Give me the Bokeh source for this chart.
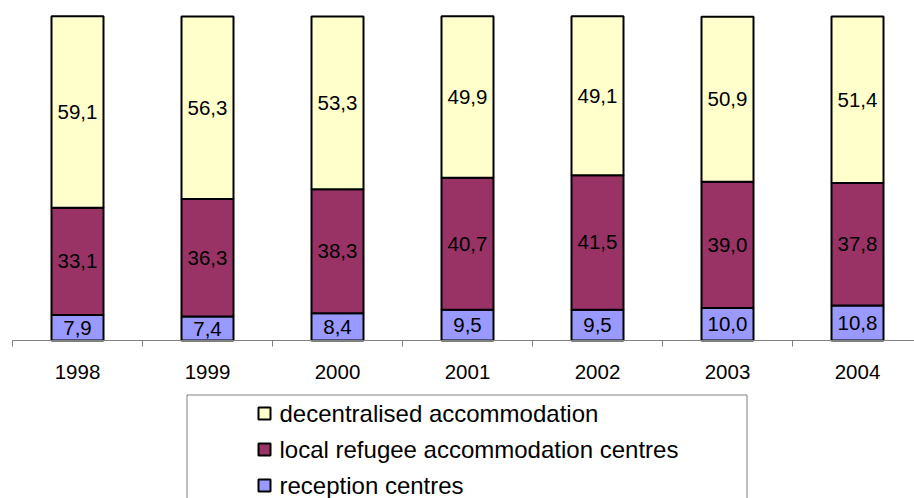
from bokeh.plotting import figure
from bokeh.models import Range1d, ColumnDataSource
from bokeh.core.properties import value
from bokeh.embed import file_html
from bokeh.resources import INLINE

# ---- data ----
years = ["1998", "1999", "2000", "2001", "2002", "2003", "2004"]
reception = [7.9, 7.4, 8.4, 9.5, 9.5, 10.0, 10.8]
local_centres = [33.1, 36.3, 38.3, 40.7, 41.5, 39.0, 37.8]
decentralised = [59.1, 56.3, 53.3, 49.9, 49.1, 50.9, 51.4]
series_names = ["decentralised accommodation", "local refugee accommodation centres", "reception centres"]
colors = {"reception": "#9999FF", "local": "#993366", "decentral": "#FFFFCC"}

FONT = value("Liberation Sans")

# page-pixel -> data helpers (layout only)
def dx(px):
    return (px - 12) / 130.0

def dy(py):
    return (340.0 - py) / 3.24

W, H = 914, 498
p = figure(width=W, height=H, output_backend="svg", toolbar_location=None,
           x_range=Range1d(dx(0), dx(W)), y_range=Range1d(dy(H), dy(0)),
           x_axis_location=None, y_axis_location=None, min_border=0,
           outline_line_color=None, background_fill_color="white")
p.grid.visible = False

n = len(years)
xc = [i + 0.5 for i in range(n)]
src = ColumnDataSource(dict(x=xc, reception=reception, local=local_centres, decentral=decentralised))
p.vbar_stack(["reception", "local", "decentral"], x="x", width=0.4, source=src,
             fill_color=[colors["reception"], colors["local"], colors["decentral"]],
             line_color="black", line_width=2)

# value labels
lx, ly, lt = [], [], []
for i in range(n):
    base = 0.0
    for v in (reception[i], local_centres[i], decentralised[i]):
        lx.append(xc[i]); ly.append(base + v / 2.0)
        lt.append(f"{v:.1f}".replace(".", ","))
        base += v
p.text(x=lx, y=ly, text=lt, text_align="center", text_baseline="middle",
       text_font=FONT, text_font_size="20.5px", text_color="black")

# category axis: line, boundary ticks, labels
bounds = list(range(n + 1))
p.segment(x0=[0], y0=[0], x1=[n], y1=[0], line_color="#808080", line_width=1)
p.segment(x0=bounds, y0=[0] * len(bounds), x1=bounds, y1=[dy(346)] * len(bounds),
          line_color="#808080", line_width=1)
p.text(x=xc, y=[dy(371)] * n, text=years, text_align="center", text_baseline="middle",
       text_font=FONT, text_font_size="20.5px", text_color="black")

# legend (drawn manually)
p.quad(left=[dx(186.5)], right=[dx(746.5)], top=[dy(394.5)], bottom=[dy(520)],
       fill_color=None, line_color="#808080", line_width=1)
rows = [413, 449, 485]
leg_colors = [colors["decentral"], colors["local"], colors["reception"]]
p.scatter(x=[dx(264)] * 3, y=[dy(r) for r in rows], marker="square", size=12,
          fill_color=leg_colors, line_color="black", line_width=2)
p.text(x=[dx(279)] * 3, y=[dy(r) for r in rows], text=series_names, text_align="left",
       text_baseline="middle", text_font=FONT, text_font_size="24px", text_color="black")

open("out.html", "w").write(file_html(p, INLINE))
